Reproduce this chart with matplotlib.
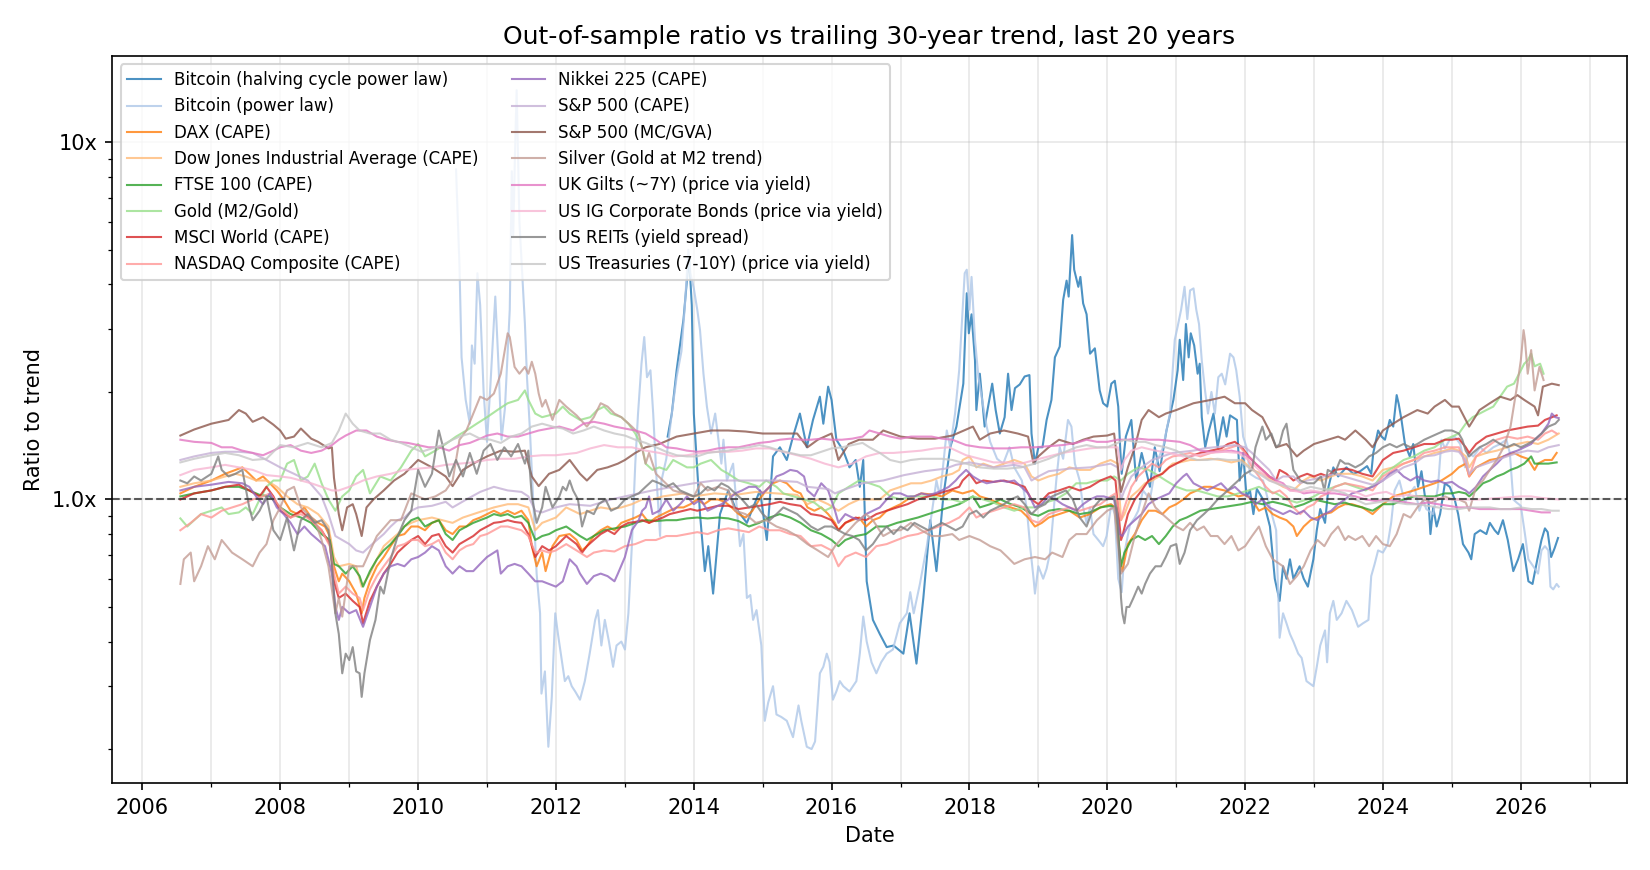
import numpy as np
import pandas as pd
import matplotlib
matplotlib.use("Agg")
import matplotlib.pyplot as plt
import matplotlib.dates as mdates
from matplotlib.ticker import FuncFormatter, NullFormatter

# ratio to trailing trend (decimal year, ratio)
btc_halving_t = [2013.62, 2013.68, 2013.75, 2013.85, 2013.93, 2013.97, 2014.0, 2014.09, 2014.16, 2014.21, 2014.28, 2014.38, 2014.5, 2014.6, 2014.77, 2014.96, 2015.06, 2015.15, 2015.25, 2015.35, 2015.44, 2015.54, 2015.64, 2015.73, 2015.83, 2015.88, 2015.95, 2016.0, 2016.07, 2016.17, 2016.26, 2016.35, 2016.41, 2016.46, 2016.51, 2016.6, 2016.7, 2016.8, 2016.9, 2017.04, 2017.13, 2017.23, 2017.33, 2017.43, 2017.52, 2017.62, 2017.72, 2017.81, 2017.91, 2017.96, 2017.99, 2018.03, 2018.08, 2018.1, 2018.15, 2018.22, 2018.27, 2018.33, 2018.38, 2018.44, 2018.51, 2018.56, 2018.61, 2018.66, 2018.73, 2018.8, 2018.87, 2018.9, 2018.95, 2019.0, 2019.06, 2019.12, 2019.19, 2019.24, 2019.31, 2019.36, 2019.41, 2019.44, 2019.49, 2019.52, 2019.58, 2019.61, 2019.65, 2019.7, 2019.75, 2019.82, 2019.89, 2019.94, 2020.0, 2020.06, 2020.11, 2020.16, 2020.19, 2020.21, 2020.27, 2020.35, 2020.42, 2020.5, 2020.62, 2020.69, 2020.76, 2020.86, 2020.96, 2021.02, 2021.05, 2021.1, 2021.14, 2021.18, 2021.21, 2021.26, 2021.31, 2021.34, 2021.37, 2021.42, 2021.47, 2021.54, 2021.6, 2021.68, 2021.73, 2021.78, 2021.88, 2021.92, 2021.97, 2022.02, 2022.07, 2022.12, 2022.17, 2022.26, 2022.36, 2022.43, 2022.5, 2022.55, 2022.6, 2022.65, 2022.7, 2022.79, 2022.85, 2022.91, 2022.99, 2023.04, 2023.09, 2023.16, 2023.21, 2023.28, 2023.35, 2023.47, 2023.57, 2023.67, 2023.77, 2023.83, 2023.86, 2023.93, 2023.98, 2024.03, 2024.1, 2024.15, 2024.2, 2024.23, 2024.27, 2024.32, 2024.39, 2024.44, 2024.51, 2024.56, 2024.61, 2024.66, 2024.69, 2024.73, 2024.78, 2024.83, 2024.9, 2024.97, 2025.04, 2025.09, 2025.16, 2025.24, 2025.28, 2025.33, 2025.41, 2025.5, 2025.55, 2025.62, 2025.67, 2025.74, 2025.81, 2025.89, 2025.96, 2026.03, 2026.11, 2026.17, 2026.24, 2026.3, 2026.35, 2026.39, 2026.44, 2026.49, 2026.54]
btc_halving_v = [1.50, 1.74, 2.3, 3.2, 4.8, 3.5, 1.74, 0.91, 0.63, 0.74, 0.545, 0.91, 1.06, 0.95, 0.86, 1.06, 0.77, 1.32, 1.40, 1.29, 1.50, 1.74, 1.40, 1.67, 1.94, 1.63, 2.07, 1.90, 1.47, 1.37, 1.23, 1.29, 1.085, 1.29, 0.59, 0.46, 0.42, 0.386, 0.39, 0.37, 0.48, 0.347, 0.53, 0.875, 0.63, 1.02, 1.40, 1.60, 2.11, 3.78, 2.92, 3.3, 2.45, 1.78, 2.25, 1.60, 1.82, 2.11, 1.78, 1.53, 1.70, 2.25, 1.78, 2.05, 2.10, 2.21, 2.23, 1.53, 1.26, 1.40, 1.40, 1.67, 1.90, 2.50, 2.68, 3.62, 4.10, 3.7, 5.5, 4.4, 3.94, 4.2, 3.54, 3.3, 2.56, 2.65, 2.02, 1.86, 1.82, 2.11, 2.15, 1.82, 1.37, 1.18, 1.5, 1.67, 1.13, 1.35, 1.085, 1.40, 1.20, 1.56, 1.90, 2.3, 2.8, 2.16, 3.1, 2.5, 2.92, 2.7, 2.25, 2.4, 1.70, 1.40, 1.55, 1.74, 1.40, 1.70, 1.50, 1.72, 1.67, 1.13, 1.35, 1.02, 1.06, 0.91, 1.07, 1.0, 0.84, 0.60, 0.52, 0.65, 0.60, 0.68, 0.60, 0.65, 0.60, 0.57, 0.68, 0.82, 0.94, 0.86, 1.085, 1.23, 1.16, 1.23, 1.18, 1.20, 1.24, 1.18, 1.35, 1.56, 1.50, 1.47, 1.67, 1.60, 1.96, 1.85, 1.67, 1.43, 1.32, 1.43, 1.085, 1.20, 1.02, 1.0, 0.80, 0.95, 0.84, 0.91, 1.11, 1.085, 1.0, 0.91, 0.75, 0.71, 0.68, 0.80, 0.82, 0.80, 0.86, 0.82, 0.80, 0.875, 0.77, 0.63, 0.68, 0.75, 0.59, 0.58, 0.68, 0.77, 0.83, 0.81, 0.69, 0.73, 0.78]

btc_power_t = [2010.55, 2010.57, 2010.6, 2010.63, 2010.69, 2010.75, 2010.78, 2010.82, 2010.86, 2010.9, 2010.95, 2011.0, 2011.05, 2011.12, 2011.17, 2011.21, 2011.26, 2011.33, 2011.36, 2011.38, 2011.41, 2011.43, 2011.47, 2011.52, 2011.55, 2011.58, 2011.62, 2011.68, 2011.72, 2011.77, 2011.79, 2011.84, 2011.89, 2011.94, 2011.99, 2012.03, 2012.08, 2012.13, 2012.18, 2012.23, 2012.28, 2012.35, 2012.42, 2012.49, 2012.57, 2012.61, 2012.66, 2012.71, 2012.77, 2012.83, 2012.88, 2012.95, 2013.0, 2013.05, 2013.1, 2013.15, 2013.19, 2013.24, 2013.28, 2013.32, 2013.37, 2013.41, 2013.46, 2013.51, 2013.53, 2013.6, 2013.68, 2013.75, 2013.82, 2013.87, 2013.92, 2013.95, 2014.0, 2014.05, 2014.09, 2014.14, 2014.19, 2014.25, 2014.31, 2014.4, 2014.43, 2014.48, 2014.57, 2014.67, 2014.72, 2014.77, 2014.82, 2014.86, 2014.91, 2014.98, 2015.03, 2015.08, 2015.15, 2015.2, 2015.27, 2015.35, 2015.44, 2015.52, 2015.56, 2015.64, 2015.71, 2015.76, 2015.83, 2015.88, 2015.93, 2015.97, 2016.02, 2016.07, 2016.12, 2016.17, 2016.26, 2016.36, 2016.41, 2016.46, 2016.51, 2016.58, 2016.65, 2016.72, 2016.8, 2016.89, 2016.99, 2017.09, 2017.14, 2017.19, 2017.28, 2017.38, 2017.45, 2017.52, 2017.57, 2017.67, 2017.72, 2017.79, 2017.85, 2017.93, 2017.96, 2018.0, 2018.03, 2018.08, 2018.13, 2018.2, 2018.25, 2018.3, 2018.4, 2018.49, 2018.58, 2018.65, 2018.76, 2018.83, 2018.88, 2018.93, 2018.95, 2019.0, 2019.07, 2019.12, 2019.17, 2019.21, 2019.26, 2019.31, 2019.36, 2019.43, 2019.48, 2019.53, 2019.6, 2019.65, 2019.7, 2019.75, 2019.8, 2019.87, 2019.94, 2019.99, 2020.06, 2020.11, 2020.16, 2020.21, 2020.25, 2020.33, 2020.4, 2020.45, 2020.52, 2020.62, 2020.71, 2020.81, 2020.91, 2020.95, 2020.98, 2021.02, 2021.07, 2021.12, 2021.16, 2021.2, 2021.25, 2021.29, 2021.33, 2021.37, 2021.42, 2021.46, 2021.51, 2021.56, 2021.61, 2021.66, 2021.71, 2021.78, 2021.83, 2021.87, 2021.92, 2021.97, 2022.02, 2022.07, 2022.16, 2022.26, 2022.36, 2022.45, 2022.5, 2022.55, 2022.6, 2022.65, 2022.7, 2022.77, 2022.82, 2022.89, 2022.94, 2022.99, 2023.04, 2023.09, 2023.16, 2023.19, 2023.23, 2023.28, 2023.33, 2023.4, 2023.47, 2023.55, 2023.64, 2023.71, 2023.79, 2023.83, 2023.88, 2023.93, 2024.0, 2024.07, 2024.12, 2024.17, 2024.24, 2024.32, 2024.39, 2024.46, 2024.53, 2024.58, 2024.63, 2024.73, 2024.8, 2024.85, 2024.9, 2024.97, 2025.04, 2025.12, 2025.19, 2025.24, 2025.31, 2025.41, 2025.5, 2025.6, 2025.7, 2025.79, 2025.84, 2025.89, 2025.94, 2026.0, 2026.06, 2026.11, 2026.18, 2026.25, 2026.3, 2026.35, 2026.4, 2026.43, 2026.47, 2026.52, 2026.55]
btc_power_v = [8.4, 6.5, 4.5, 2.5, 1.9, 1.63, 2.7, 2.4, 4.3, 3.5, 2.0, 1.45, 2.1, 3.7, 2.3, 1.47, 1.8, 3.4, 8.3, 5.5, 10.0, 14.0, 6.0, 4.0, 3.1, 2.2, 1.6, 0.9, 0.62, 0.48, 0.286, 0.33, 0.203, 0.28, 0.48, 0.42, 0.36, 0.31, 0.32, 0.30, 0.29, 0.275, 0.31, 0.37, 0.46, 0.49, 0.39, 0.46, 0.40, 0.34, 0.39, 0.40, 0.38, 0.48, 0.74, 1.26, 1.74, 2.4, 2.85, 2.2, 2.3, 1.74, 1.13, 0.79, 1.13, 1.30, 1.74, 2.2, 2.6, 3.5, 5.0, 4.3, 3.9, 3.4, 2.98, 2.25, 1.82, 1.53, 1.74, 1.26, 1.47, 1.13, 1.26, 0.74, 0.80, 0.53, 0.54, 0.46, 0.49, 0.39, 0.24, 0.27, 0.30, 0.25, 0.246, 0.24, 0.216, 0.265, 0.24, 0.203, 0.20, 0.21, 0.326, 0.34, 0.37, 0.35, 0.275, 0.29, 0.31, 0.30, 0.29, 0.31, 0.37, 0.47, 0.40, 0.35, 0.326, 0.35, 0.37, 0.38, 0.45, 0.48, 0.55, 0.48, 0.58, 0.74, 0.91, 1.13, 1.02, 1.56, 1.40, 1.74, 2.3, 4.3, 4.4, 3.4, 4.2, 2.8, 2.2, 1.82, 1.60, 1.45, 1.30, 1.26, 1.40, 1.23, 1.13, 0.95, 0.74, 0.60, 0.545, 0.65, 0.60, 0.64, 0.71, 0.875, 1.13, 1.40, 1.30, 1.67, 1.60, 1.26, 1.13, 0.95, 0.86, 0.95, 0.80, 0.77, 0.74, 0.79, 0.97, 0.91, 0.60, 0.55, 0.71, 0.85, 0.89, 0.93, 1.06, 1.0, 1.26, 1.40, 1.74, 2.3, 2.8, 3.05, 3.4, 3.94, 3.2, 3.85, 3.9, 3.4, 3.1, 2.45, 2.0, 1.74, 2.0, 1.74, 2.2, 2.25, 2.1, 2.56, 2.5, 2.3, 1.94, 1.50, 1.40, 1.18, 1.15, 1.13, 0.95, 0.82, 0.41, 0.48, 0.45, 0.42, 0.40, 0.37, 0.36, 0.31, 0.305, 0.30, 0.34, 0.39, 0.43, 0.35, 0.48, 0.52, 0.46, 0.48, 0.52, 0.49, 0.44, 0.45, 0.46, 0.61, 0.66, 0.72, 0.71, 0.75, 0.86, 1.06, 1.13, 0.98, 1.04, 1.085, 0.93, 1.0, 0.94, 0.91, 1.085, 1.47, 1.39, 1.47, 1.50, 1.43, 1.23, 1.35, 1.32, 1.40, 1.35, 1.40, 1.43, 1.47, 1.35, 1.0, 0.98, 0.96, 0.80, 0.68, 0.65, 0.62, 0.72, 0.74, 0.72, 0.57, 0.56, 0.58, 0.57]

dax_t = [2006.55, 2006.75, 2007.0, 2007.2, 2007.35, 2007.45, 2007.55, 2007.65, 2007.75, 2007.85, 2007.95, 2008.05, 2008.15, 2008.25, 2008.35, 2008.45, 2008.55, 2008.65, 2008.72, 2008.78, 2008.85, 2008.9, 2009.0, 2009.1, 2009.18, 2009.22, 2009.3, 2009.4, 2009.5, 2009.6, 2009.7, 2009.8, 2009.9, 2010.0, 2010.1, 2010.2, 2010.3, 2010.4, 2010.5, 2010.6, 2010.7, 2010.8, 2010.9, 2011.0, 2011.1, 2011.2, 2011.3, 2011.4, 2011.5, 2011.6, 2011.65, 2011.72, 2011.8, 2011.85, 2011.95, 2012.05, 2012.2, 2012.3, 2012.38, 2012.45, 2012.55, 2012.65, 2012.75, 2012.85, 2012.95, 2013.05, 2013.15, 2013.25, 2013.35, 2013.45, 2013.55, 2013.65, 2013.75, 2013.85, 2013.95, 2014.05, 2014.15, 2014.25, 2014.35, 2014.45, 2014.55, 2014.65, 2014.75, 2014.85, 2014.95, 2015.05, 2015.15, 2015.25, 2015.35, 2015.45, 2015.55, 2015.65, 2015.75, 2015.85, 2015.95, 2016.05, 2016.1, 2016.2, 2016.3, 2016.4, 2016.5, 2016.6, 2016.7, 2016.8, 2016.9, 2017.0, 2017.1, 2017.2, 2017.3, 2017.5, 2017.6, 2017.75, 2017.9, 2018.05, 2018.15, 2018.3, 2018.45, 2018.6, 2018.75, 2018.85, 2018.95, 2019.05, 2019.15, 2019.3, 2019.45, 2019.6, 2019.75, 2019.9, 2020.05, 2020.12, 2020.2, 2020.22, 2020.3, 2020.4, 2020.5, 2020.6, 2020.7, 2020.8, 2020.9, 2021.0, 2021.1, 2021.2, 2021.3, 2021.4, 2021.5, 2021.6, 2021.7, 2021.8, 2021.9, 2022.0, 2022.1, 2022.2, 2022.3, 2022.4, 2022.5, 2022.6, 2022.7, 2022.75, 2022.85, 2022.95, 2023.05, 2023.15, 2023.25, 2023.35, 2023.45, 2023.55, 2023.7, 2023.85, 2024.0, 2024.15, 2024.3, 2024.45, 2024.6, 2024.75, 2024.85, 2025.0, 2025.1, 2025.2, 2025.25, 2025.35, 2025.45, 2025.55, 2025.65, 2025.75, 2025.9, 2026.0, 2026.1, 2026.2, 2026.25, 2026.35, 2026.45, 2026.52]
dax_v = [1.04, 1.085, 1.13, 1.18, 1.21, 1.23, 1.18, 1.13, 1.16, 1.11, 1.06, 1.0, 0.93, 0.91, 0.95, 0.89, 0.86, 0.84, 0.79, 0.65, 0.59, 0.62, 0.59, 0.545, 0.48, 0.53, 0.59, 0.65, 0.69, 0.74, 0.79, 0.80, 0.84, 0.84, 0.82, 0.86, 0.875, 0.82, 0.80, 0.84, 0.84, 0.875, 0.89, 0.91, 0.93, 0.91, 0.93, 0.91, 0.93, 0.875, 0.74, 0.65, 0.71, 0.63, 0.74, 0.79, 0.80, 0.77, 0.72, 0.74, 0.79, 0.82, 0.84, 0.82, 0.86, 0.875, 0.89, 0.91, 0.86, 0.89, 0.91, 0.93, 0.95, 0.95, 0.97, 1.0, 0.97, 1.0, 1.0, 0.985, 0.95, 0.91, 0.89, 0.93, 1.0, 1.06, 1.11, 1.13, 1.11, 1.06, 1.04, 0.95, 0.93, 0.95, 0.91, 0.86, 0.82, 0.86, 0.875, 0.89, 0.84, 0.875, 0.89, 0.93, 0.95, 0.97, 1.0, 1.02, 1.04, 1.03, 1.02, 1.06, 1.04, 1.06, 1.02, 1.0, 0.97, 0.95, 0.93, 0.89, 0.84, 0.86, 0.89, 0.91, 0.93, 0.89, 0.91, 0.95, 0.97, 0.95, 0.65, 0.63, 0.75, 0.80, 0.875, 0.93, 0.93, 0.91, 0.95, 0.97, 1.0, 1.04, 1.06, 1.085, 1.085, 1.07, 1.06, 1.04, 1.02, 1.03, 1.0, 0.93, 0.95, 0.91, 0.89, 0.875, 0.84, 0.79, 0.84, 0.875, 0.89, 0.91, 0.92, 0.95, 0.97, 0.97, 0.95, 0.91, 0.97, 1.02, 1.04, 1.06, 1.085, 1.11, 1.13, 1.18, 1.23, 1.26, 1.16, 1.23, 1.26, 1.29, 1.30, 1.32, 1.35, 1.32, 1.30, 1.21, 1.26, 1.29, 1.29, 1.35]

dow_t = [2006.55, 2006.75, 2007.0, 2007.2, 2007.35, 2007.5, 2007.65, 2007.8, 2007.95, 2008.1, 2008.25, 2008.4, 2008.55, 2008.7, 2008.78, 2008.85, 2009.0, 2009.1, 2009.18, 2009.3, 2009.4, 2009.5, 2009.6, 2009.7, 2009.8, 2009.9, 2010.0, 2010.2, 2010.35, 2010.5, 2010.65, 2010.8, 2010.95, 2011.1, 2011.3, 2011.45, 2011.6, 2011.7, 2011.8, 2011.9, 2012.0, 2012.15, 2012.35, 2012.5, 2012.65, 2012.8, 2012.95, 2013.1, 2013.25, 2013.4, 2013.55, 2013.7, 2013.85, 2014.0, 2014.15, 2014.3, 2014.6, 2014.9, 2015.2, 2015.5, 2015.65, 2015.8, 2015.95, 2016.1, 2016.25, 2016.4, 2016.55, 2016.7, 2016.85, 2017.0, 2017.15, 2017.3, 2017.45, 2017.6, 2017.75, 2017.85, 2017.9, 2018.0, 2018.1, 2018.2, 2018.35, 2018.5, 2018.65, 2018.8, 2018.9, 2019.0, 2019.15, 2019.3, 2019.45, 2019.6, 2019.75, 2019.9, 2020.05, 2020.15, 2020.2, 2020.25, 2020.35, 2020.45, 2020.55, 2020.65, 2020.75, 2020.85, 2020.95, 2021.05, 2021.2, 2021.35, 2021.5, 2021.65, 2021.8, 2021.95, 2022.1, 2022.25, 2022.4, 2022.55, 2022.7, 2022.85, 2022.95, 2023.1, 2023.25, 2023.35, 2023.45, 2023.55, 2023.7, 2023.85, 2024.0, 2024.15, 2024.3, 2024.45, 2024.6, 2024.75, 2024.9, 2025.0, 2025.1, 2025.2, 2025.25, 2025.35, 2025.5, 2025.65, 2025.8, 2025.95, 2026.1, 2026.25, 2026.4, 2026.55]
dow_v = [1.085, 1.11, 1.13, 1.16, 1.18, 1.16, 1.13, 1.13, 1.085, 1.02, 0.97, 0.95, 0.91, 0.84, 0.69, 0.65, 0.66, 0.65, 0.57, 0.62, 0.68, 0.74, 0.77, 0.80, 0.84, 0.86, 0.875, 0.89, 0.875, 0.86, 0.89, 0.91, 0.93, 0.95, 0.97, 0.97, 0.95, 0.82, 0.86, 0.875, 0.89, 0.95, 0.91, 0.93, 0.95, 0.94, 0.95, 0.97, 1.0, 1.0, 1.02, 1.03, 1.04, 1.02, 1.03, 1.04, 1.03, 1.05, 1.04, 1.03, 0.97, 1.0, 0.97, 0.93, 0.97, 1.0, 1.0, 1.0, 1.06, 1.085, 1.11, 1.11, 1.13, 1.16, 1.18, 1.21, 1.29, 1.32, 1.23, 1.26, 1.23, 1.26, 1.29, 1.26, 1.16, 1.13, 1.16, 1.18, 1.23, 1.21, 1.21, 1.26, 1.29, 1.26, 0.875, 0.91, 1.02, 1.06, 1.11, 1.13, 1.16, 1.21, 1.26, 1.27, 1.29, 1.29, 1.30, 1.29, 1.27, 1.29, 1.21, 1.18, 1.13, 1.085, 1.06, 1.13, 1.16, 1.13, 1.16, 1.18, 1.18, 1.18, 1.16, 1.13, 1.21, 1.23, 1.26, 1.29, 1.32, 1.35, 1.37, 1.39, 1.37, 1.32, 1.23, 1.32, 1.35, 1.37, 1.40, 1.43, 1.45, 1.43, 1.47, 1.53]

ftse_t = [2006.55, 2006.75, 2007.0, 2007.2, 2007.4, 2007.55, 2007.7, 2007.85, 2008.0, 2008.15, 2008.3, 2008.45, 2008.6, 2008.72, 2008.78, 2008.85, 2008.95, 2009.05, 2009.15, 2009.2, 2009.3, 2009.4, 2009.5, 2009.6, 2009.7, 2009.8, 2009.9, 2010.0, 2010.1, 2010.2, 2010.3, 2010.4, 2010.5, 2010.6, 2010.7, 2010.8, 2010.9, 2011.0, 2011.1, 2011.2, 2011.3, 2011.4, 2011.5, 2011.6, 2011.7, 2011.8, 2011.9, 2012.0, 2012.15, 2012.35, 2012.45, 2012.55, 2012.7, 2012.85, 2013.0, 2013.15, 2013.3, 2013.45, 2013.6, 2013.75, 2013.9, 2014.05, 2014.2, 2014.35, 2014.5, 2014.65, 2014.8, 2014.95, 2015.1, 2015.25, 2015.4, 2015.55, 2015.7, 2015.85, 2016.0, 2016.1, 2016.2, 2016.35, 2016.5, 2016.65, 2016.8, 2016.95, 2017.1, 2017.25, 2017.4, 2017.55, 2017.7, 2017.85, 2018.05, 2018.15, 2018.3, 2018.45, 2018.6, 2018.75, 2018.9, 2019.0, 2019.15, 2019.3, 2019.45, 2019.6, 2019.75, 2019.9, 2020.05, 2020.12, 2020.2, 2020.25, 2020.35, 2020.45, 2020.55, 2020.65, 2020.75, 2020.85, 2020.95, 2021.05, 2021.15, 2021.25, 2021.35, 2021.5, 2021.65, 2021.8, 2021.95, 2022.1, 2022.25, 2022.4, 2022.55, 2022.7, 2022.85, 2023.0, 2023.15, 2023.3, 2023.45, 2023.55, 2023.7, 2023.85, 2024.0, 2024.15, 2024.3, 2024.45, 2024.6, 2024.75, 2024.9, 2025.0, 2025.1, 2025.2, 2025.25, 2025.35, 2025.45, 2025.55, 2025.65, 2025.75, 2025.85, 2025.95, 2026.05, 2026.15, 2026.2, 2026.3, 2026.4, 2026.52]
ftse_v = [1.02, 1.04, 1.06, 1.085, 1.085, 1.06, 1.03, 1.02, 0.95, 0.91, 0.89, 0.86, 0.80, 0.77, 0.66, 0.65, 0.62, 0.65, 0.61, 0.57, 0.63, 0.68, 0.72, 0.75, 0.79, 0.84, 0.875, 0.89, 0.84, 0.86, 0.875, 0.80, 0.77, 0.82, 0.84, 0.86, 0.875, 0.89, 0.91, 0.90, 0.91, 0.89, 0.90, 0.86, 0.77, 0.79, 0.80, 0.82, 0.84, 0.79, 0.77, 0.79, 0.82, 0.83, 0.84, 0.86, 0.875, 0.87, 0.875, 0.875, 0.885, 0.89, 0.885, 0.89, 0.885, 0.87, 0.84, 0.86, 0.89, 0.91, 0.89, 0.86, 0.82, 0.80, 0.77, 0.74, 0.77, 0.79, 0.80, 0.84, 0.84, 0.86, 0.875, 0.89, 0.91, 0.93, 0.95, 0.97, 1.02, 0.95, 0.97, 1.0, 0.97, 0.95, 0.91, 0.90, 0.93, 0.94, 0.93, 0.91, 0.92, 0.95, 0.96, 0.95, 0.65, 0.71, 0.77, 0.79, 0.77, 0.79, 0.75, 0.79, 0.84, 0.875, 0.89, 0.91, 0.93, 0.94, 0.95, 0.96, 0.97, 0.985, 0.97, 0.985, 0.97, 0.95, 0.97, 1.0, 0.985, 0.97, 0.98, 0.965, 0.95, 0.93, 0.97, 0.97, 1.0, 1.02, 1.02, 1.02, 1.04, 1.04, 1.05, 1.04, 1.02, 1.06, 1.11, 1.13, 1.16, 1.18, 1.21, 1.23, 1.26, 1.32, 1.26, 1.26, 1.26, 1.27]

gold_t = [2006.55, 2006.65, 2006.75, 2006.85, 2007.0, 2007.15, 2007.25, 2007.4, 2007.5, 2007.6, 2007.7, 2007.8, 2007.9, 2008.0, 2008.1, 2008.2, 2008.3, 2008.4, 2008.5, 2008.6, 2008.7, 2008.8, 2008.9, 2009.0, 2009.1, 2009.2, 2009.3, 2009.45, 2009.6, 2009.75, 2009.9, 2010.0, 2010.1, 2010.25, 2010.4, 2010.55, 2010.7, 2010.85, 2011.0, 2011.15, 2011.3, 2011.45, 2011.55, 2011.6, 2011.7, 2011.8, 2012.0, 2012.1, 2012.2, 2012.35, 2012.5, 2012.6, 2012.7, 2012.8, 2012.95, 2013.05, 2013.15, 2013.25, 2013.3, 2013.4, 2013.5, 2013.6, 2013.7, 2013.8, 2013.9, 2014.0, 2014.1, 2014.25, 2014.4, 2014.5, 2014.65, 2014.8, 2014.95, 2015.05, 2015.2, 2015.3, 2015.45, 2015.6, 2015.75, 2015.9, 2016.0, 2016.1, 2016.25, 2016.4, 2016.55, 2016.7, 2016.85, 2017.0, 2017.15, 2017.3, 2017.45, 2017.6, 2017.75, 2017.9, 2018.05, 2018.2, 2018.35, 2018.5, 2018.65, 2018.8, 2018.95, 2019.1, 2019.25, 2019.4, 2019.55, 2019.7, 2019.85, 2020.0, 2020.1, 2020.2, 2020.3, 2020.45, 2020.6, 2020.7, 2020.85, 2021.0, 2021.15, 2021.3, 2021.45, 2021.6, 2021.75, 2021.9, 2022.05, 2022.2, 2022.3, 2022.45, 2022.6, 2022.75, 2022.9, 2023.0, 2023.15, 2023.3, 2023.45, 2023.6, 2023.75, 2023.9, 2024.0, 2024.15, 2024.3, 2024.45, 2024.6, 2024.75, 2024.9, 2025.0, 2025.1, 2025.2, 2025.3, 2025.4, 2025.5, 2025.6, 2025.7, 2025.8, 2025.9, 2026.0, 2026.05, 2026.1, 2026.15, 2026.2, 2026.28, 2026.33]
gold_v = [0.885, 0.84, 0.875, 0.91, 0.93, 0.95, 0.91, 0.92, 0.95, 0.91, 1.0, 1.085, 1.13, 1.13, 1.26, 1.29, 1.13, 1.16, 1.26, 1.11, 1.0, 0.93, 1.02, 1.06, 1.16, 1.21, 1.04, 1.16, 1.13, 1.23, 1.37, 1.43, 1.32, 1.37, 1.43, 1.50, 1.56, 1.63, 1.70, 1.78, 1.86, 1.90, 2.02, 1.90, 1.74, 1.70, 1.74, 1.82, 1.74, 1.67, 1.70, 1.78, 1.82, 1.74, 1.70, 1.63, 1.53, 1.40, 1.26, 1.21, 1.23, 1.21, 1.29, 1.26, 1.23, 1.23, 1.26, 1.29, 1.21, 1.18, 1.13, 1.11, 1.085, 1.13, 1.085, 1.04, 1.02, 1.0, 0.98, 0.93, 0.95, 1.04, 1.085, 1.13, 1.11, 1.085, 1.02, 1.0, 1.02, 1.02, 1.02, 1.0, 1.0, 0.98, 1.02, 1.0, 0.98, 0.95, 0.93, 0.95, 0.95, 0.98, 1.0, 1.04, 1.11, 1.11, 1.13, 1.13, 1.16, 1.13, 1.18, 1.23, 1.21, 1.18, 1.13, 1.085, 1.06, 1.06, 1.04, 1.02, 1.02, 1.04, 1.06, 1.085, 1.06, 1.04, 1.0, 0.98, 1.0, 1.02, 1.06, 1.085, 1.11, 1.085, 1.06, 1.11, 1.18, 1.23, 1.29, 1.32, 1.37, 1.40, 1.47, 1.50, 1.53, 1.63, 1.70, 1.74, 1.78, 1.82, 1.94, 2.07, 2.11, 2.30, 2.40, 2.45, 2.56, 2.36, 2.40, 2.25]

msci_t = [2006.55, 2006.75, 2007.0, 2007.2, 2007.4, 2007.55, 2007.7, 2007.8, 2007.9, 2008.0, 2008.15, 2008.3, 2008.45, 2008.6, 2008.72, 2008.78, 2008.85, 2008.95, 2009.05, 2009.15, 2009.2, 2009.3, 2009.4, 2009.5, 2009.6, 2009.7, 2009.8, 2009.9, 2010.0, 2010.1, 2010.2, 2010.3, 2010.4, 2010.5, 2010.6, 2010.7, 2010.8, 2010.9, 2011.0, 2011.1, 2011.2, 2011.3, 2011.4, 2011.5, 2011.6, 2011.7, 2011.8, 2011.9, 2012.0, 2012.15, 2012.3, 2012.38, 2012.45, 2012.55, 2012.65, 2012.75, 2012.85, 2012.95, 2013.05, 2013.15, 2013.25, 2013.35, 2013.45, 2013.55, 2013.65, 2013.75, 2013.85, 2013.95, 2014.05, 2014.15, 2014.25, 2014.35, 2014.5, 2014.65, 2014.8, 2014.95, 2015.1, 2015.25, 2015.4, 2015.55, 2015.7, 2015.85, 2016.0, 2016.1, 2016.2, 2016.35, 2016.5, 2016.65, 2016.8, 2016.95, 2017.1, 2017.25, 2017.4, 2017.55, 2017.7, 2017.85, 2017.9, 2018.0, 2018.1, 2018.2, 2018.35, 2018.5, 2018.65, 2018.8, 2018.9, 2019.0, 2019.15, 2019.3, 2019.45, 2019.6, 2019.75, 2019.9, 2020.05, 2020.12, 2020.2, 2020.22, 2020.3, 2020.4, 2020.5, 2020.6, 2020.7, 2020.8, 2020.9, 2021.0, 2021.1, 2021.2, 2021.35, 2021.5, 2021.65, 2021.75, 2021.85, 2021.95, 2022.05, 2022.15, 2022.25, 2022.35, 2022.45, 2022.5, 2022.6, 2022.7, 2022.8, 2022.9, 2023.0, 2023.1, 2023.2, 2023.3, 2023.45, 2023.55, 2023.7, 2023.85, 2024.0, 2024.15, 2024.3, 2024.45, 2024.6, 2024.75, 2024.9, 2025.0, 2025.1, 2025.2, 2025.25, 2025.35, 2025.5, 2025.65, 2025.8, 2025.95, 2026.1, 2026.25, 2026.35, 2026.45, 2026.52]
msci_v = [1.0, 1.04, 1.06, 1.085, 1.10, 1.06, 1.02, 1.085, 1.02, 0.93, 0.89, 0.93, 0.875, 0.82, 0.75, 0.59, 0.53, 0.545, 0.52, 0.50, 0.45, 0.52, 0.57, 0.62, 0.66, 0.71, 0.74, 0.77, 0.79, 0.75, 0.79, 0.80, 0.74, 0.71, 0.75, 0.77, 0.79, 0.82, 0.84, 0.86, 0.865, 0.875, 0.865, 0.86, 0.80, 0.69, 0.74, 0.72, 0.74, 0.79, 0.75, 0.71, 0.74, 0.77, 0.80, 0.82, 0.80, 0.84, 0.86, 0.865, 0.875, 0.86, 0.875, 0.89, 0.91, 0.92, 0.93, 0.94, 0.93, 0.94, 0.95, 0.96, 0.96, 0.94, 0.95, 0.96, 0.97, 0.985, 0.97, 0.96, 0.91, 0.90, 0.875, 0.82, 0.86, 0.89, 0.875, 0.91, 0.93, 0.95, 0.97, 1.0, 1.02, 1.04, 1.06, 1.085, 1.13, 1.18, 1.11, 1.13, 1.12, 1.13, 1.11, 1.085, 1.0, 0.97, 1.04, 1.06, 1.085, 1.06, 1.085, 1.13, 1.16, 1.13, 0.77, 0.79, 0.91, 1.0, 1.06, 1.13, 1.16, 1.18, 1.23, 1.26, 1.29, 1.32, 1.35, 1.37, 1.39, 1.43, 1.45, 1.40, 1.32, 1.26, 1.21, 1.16, 1.13, 1.21, 1.18, 1.13, 1.16, 1.18, 1.16, 1.18, 1.16, 1.21, 1.22, 1.21, 1.18, 1.16, 1.29, 1.35, 1.37, 1.40, 1.43, 1.43, 1.47, 1.47, 1.48, 1.40, 1.35, 1.43, 1.50, 1.53, 1.56, 1.58, 1.60, 1.61, 1.67, 1.70, 1.72]

nasdaq_t = [2006.55, 2006.7, 2006.85, 2007.0, 2007.15, 2007.3, 2007.45, 2007.6, 2007.75, 2007.85, 2008.0, 2008.15, 2008.3, 2008.45, 2008.6, 2008.72, 2008.78, 2008.85, 2008.95, 2009.05, 2009.15, 2009.2, 2009.3, 2009.4, 2009.5, 2009.6, 2009.7, 2009.8, 2009.9, 2010.0, 2010.1, 2010.2, 2010.3, 2010.4, 2010.5, 2010.6, 2010.7, 2010.8, 2010.9, 2011.0, 2011.1, 2011.2, 2011.3, 2011.4, 2011.5, 2011.6, 2011.7, 2011.8, 2011.9, 2012.0, 2012.15, 2012.35, 2012.45, 2012.55, 2012.7, 2012.85, 2013.0, 2013.15, 2013.3, 2013.45, 2013.6, 2013.75, 2013.9, 2014.05, 2014.2, 2014.35, 2014.5, 2014.65, 2014.8, 2014.95, 2015.1, 2015.25, 2015.4, 2015.55, 2015.7, 2015.85, 2016.0, 2016.1, 2016.2, 2016.35, 2016.5, 2016.65, 2016.8, 2016.95, 2017.1, 2017.25, 2017.4, 2017.55, 2017.7, 2017.85, 2018.0, 2018.1, 2018.2, 2018.35, 2018.5, 2018.65, 2018.8, 2018.9, 2019.0, 2019.15, 2019.3, 2019.45, 2019.6, 2019.75, 2019.9, 2020.05, 2020.12, 2020.2, 2020.25, 2020.35, 2020.45, 2020.55, 2020.65, 2020.75, 2020.85, 2020.95, 2021.05, 2021.2, 2021.35, 2021.5, 2021.65, 2021.8, 2021.9, 2022.0, 2022.1, 2022.2, 2022.3, 2022.4, 2022.5, 2022.6, 2022.7, 2022.8, 2022.9, 2023.0, 2023.1, 2023.2, 2023.3, 2023.45, 2023.55, 2023.7, 2023.85, 2024.0, 2024.15, 2024.3, 2024.45, 2024.6, 2024.75, 2024.9, 2025.0, 2025.1, 2025.2, 2025.25, 2025.35, 2025.5, 2025.65, 2025.8, 2025.95, 2026.1, 2026.25, 2026.35, 2026.45, 2026.52]
nasdaq_v = [0.82, 0.86, 0.91, 0.89, 0.93, 0.95, 0.97, 1.0, 1.02, 1.04, 0.95, 0.89, 0.91, 0.875, 0.82, 0.74, 0.62, 0.545, 0.57, 0.545, 0.53, 0.49, 0.56, 0.61, 0.65, 0.69, 0.74, 0.75, 0.77, 0.77, 0.74, 0.75, 0.77, 0.71, 0.68, 0.72, 0.74, 0.75, 0.79, 0.80, 0.82, 0.84, 0.84, 0.83, 0.82, 0.79, 0.71, 0.72, 0.71, 0.72, 0.75, 0.71, 0.69, 0.71, 0.72, 0.715, 0.74, 0.75, 0.77, 0.77, 0.79, 0.79, 0.80, 0.81, 0.80, 0.82, 0.83, 0.82, 0.81, 0.84, 0.82, 0.82, 0.80, 0.79, 0.74, 0.745, 0.72, 0.65, 0.69, 0.71, 0.69, 0.74, 0.75, 0.77, 0.79, 0.80, 0.82, 0.84, 0.86, 0.89, 0.95, 0.89, 0.91, 0.93, 0.95, 0.97, 0.95, 0.875, 0.86, 0.91, 0.93, 0.95, 0.93, 0.95, 0.97, 1.02, 1.04, 0.875, 0.95, 1.085, 1.16, 1.21, 1.26, 1.23, 1.29, 1.32, 1.33, 1.35, 1.32, 1.35, 1.37, 1.40, 1.42, 1.35, 1.23, 1.16, 1.085, 1.04, 1.06, 1.02, 0.95, 0.91, 0.95, 0.97, 1.02, 1.04, 1.085, 1.11, 1.10, 1.085, 1.06, 1.16, 1.21, 1.26, 1.29, 1.35, 1.37, 1.40, 1.40, 1.40, 1.26, 1.16, 1.32, 1.40, 1.47, 1.50, 1.48, 1.50, 1.47, 1.53, 1.56, 1.53]

nikkei_t = [2006.55, 2006.75, 2007.0, 2007.25, 2007.45, 2007.55, 2007.65, 2007.75, 2007.85, 2007.95, 2008.05, 2008.15, 2008.25, 2008.35, 2008.45, 2008.55, 2008.65, 2008.75, 2008.8, 2008.85, 2008.9, 2009.0, 2009.1, 2009.2, 2009.3, 2009.4, 2009.5, 2009.6, 2009.7, 2009.8, 2009.9, 2010.0, 2010.1, 2010.2, 2010.3, 2010.4, 2010.5, 2010.6, 2010.7, 2010.8, 2010.9, 2011.0, 2011.1, 2011.15, 2011.2, 2011.3, 2011.4, 2011.5, 2011.6, 2011.7, 2011.8, 2011.9, 2012.0, 2012.1, 2012.2, 2012.3, 2012.35, 2012.45, 2012.55, 2012.65, 2012.75, 2012.85, 2012.9, 2013.0, 2013.1, 2013.2, 2013.25, 2013.3, 2013.35, 2013.4, 2013.5, 2013.6, 2013.7, 2013.8, 2013.9, 2014.0, 2014.1, 2014.2, 2014.3, 2014.4, 2014.5, 2014.6, 2014.7, 2014.8, 2014.9, 2015.0, 2015.1, 2015.2, 2015.3, 2015.4, 2015.5, 2015.6, 2015.65, 2015.75, 2015.85, 2015.95, 2016.05, 2016.1, 2016.2, 2016.3, 2016.4, 2016.5, 2016.6, 2016.7, 2016.8, 2016.9, 2017.0, 2017.1, 2017.2, 2017.3, 2017.4, 2017.5, 2017.6, 2017.7, 2017.8, 2017.85, 2017.95, 2018.05, 2018.15, 2018.25, 2018.35, 2018.45, 2018.55, 2018.65, 2018.75, 2018.85, 2018.95, 2019.05, 2019.15, 2019.25, 2019.35, 2019.45, 2019.55, 2019.65, 2019.75, 2019.85, 2019.95, 2020.1, 2020.18, 2020.22, 2020.3, 2020.4, 2020.5, 2020.6, 2020.7, 2020.8, 2020.9, 2021.0, 2021.1, 2021.15, 2021.25, 2021.35, 2021.45, 2021.55, 2021.65, 2021.75, 2021.85, 2021.95, 2022.05, 2022.15, 2022.25, 2022.35, 2022.45, 2022.55, 2022.65, 2022.75, 2022.85, 2022.95, 2023.05, 2023.15, 2023.25, 2023.35, 2023.45, 2023.55, 2023.7, 2023.85, 2024.0, 2024.1, 2024.2, 2024.3, 2024.4, 2024.5, 2024.6, 2024.7, 2024.8, 2024.9, 2025.0, 2025.1, 2025.2, 2025.25, 2025.35, 2025.45, 2025.55, 2025.65, 2025.75, 2025.85, 2025.95, 2026.05, 2026.15, 2026.2, 2026.3, 2026.4, 2026.45, 2026.5, 2026.55]
nikkei_v = [1.06, 1.085, 1.10, 1.12, 1.11, 1.085, 1.02, 0.97, 1.04, 0.95, 0.91, 0.86, 0.80, 0.84, 0.80, 0.77, 0.74, 0.62, 0.50, 0.46, 0.50, 0.48, 0.49, 0.44, 0.50, 0.57, 0.62, 0.65, 0.66, 0.65, 0.68, 0.69, 0.71, 0.74, 0.72, 0.65, 0.62, 0.65, 0.63, 0.63, 0.66, 0.69, 0.71, 0.72, 0.62, 0.65, 0.66, 0.65, 0.62, 0.59, 0.59, 0.58, 0.57, 0.59, 0.68, 0.65, 0.62, 0.58, 0.61, 0.62, 0.61, 0.59, 0.62, 0.69, 0.82, 0.875, 0.93, 0.95, 1.02, 0.91, 0.93, 1.0, 0.93, 0.97, 1.02, 0.97, 1.0, 0.93, 0.95, 0.97, 1.0, 1.04, 1.06, 1.085, 1.085, 1.04, 1.085, 1.16, 1.18, 1.21, 1.20, 1.16, 1.06, 1.02, 1.11, 1.06, 0.93, 0.86, 0.91, 0.89, 0.875, 0.91, 0.93, 0.95, 1.0, 1.04, 1.04, 1.02, 1.02, 1.04, 1.03, 1.04, 1.06, 1.085, 1.13, 1.16, 1.21, 1.16, 1.13, 1.11, 1.12, 1.13, 1.12, 1.13, 1.085, 1.04, 0.95, 0.97, 1.02, 1.0, 0.97, 0.95, 0.93, 0.97, 1.0, 1.02, 1.02, 1.0, 0.80, 0.79, 0.84, 0.875, 0.91, 0.97, 1.0, 1.02, 1.04, 1.11, 1.16, 1.18, 1.11, 1.085, 1.06, 1.085, 1.11, 1.06, 1.085, 1.04, 1.02, 0.97, 1.0, 0.95, 0.93, 0.91, 0.93, 0.91, 0.93, 0.89, 0.875, 0.91, 0.93, 0.97, 1.0, 1.04, 1.06, 1.085, 1.13, 1.18, 1.21, 1.16, 1.13, 1.16, 1.13, 1.12, 1.13, 1.11, 1.12, 1.085, 1.06, 1.04, 1.085, 1.16, 1.21, 1.26, 1.32, 1.35, 1.37, 1.40, 1.43, 1.47, 1.53, 1.63, 1.74, 1.70, 1.69]

spx_cape_t = [2006.55, 2006.75, 2007.0, 2007.2, 2007.4, 2007.6, 2007.8, 2008.0, 2008.2, 2008.4, 2008.6, 2008.7, 2008.8, 2008.9, 2009.0, 2009.1, 2009.2, 2009.3, 2009.4, 2009.5, 2009.6, 2009.7, 2009.8, 2009.9, 2010.0, 2010.2, 2010.4, 2010.5, 2010.7, 2010.9, 2011.1, 2011.3, 2011.5, 2011.6, 2011.7, 2011.8, 2012.0, 2012.2, 2012.5, 2012.8, 2013.1, 2013.4, 2013.7, 2014.0, 2014.3, 2014.75, 2015.2, 2015.5, 2015.65, 2015.95, 2016.05, 2016.15, 2016.45, 2016.75, 2017.05, 2017.35, 2017.65, 2017.8, 2018.0, 2018.2, 2018.35, 2018.65, 2018.8, 2018.9, 2019.0, 2019.15, 2019.45, 2019.75, 2020.05, 2020.15, 2020.2, 2020.25, 2020.35, 2020.5, 2020.65, 2020.8, 2020.95, 2021.1, 2021.25, 2021.4, 2021.55, 2021.85, 2022.0, 2022.1, 2022.2, 2022.35, 2022.45, 2022.55, 2022.7, 2022.8, 2022.9, 2023.0, 2023.15, 2023.3, 2023.5, 2023.7, 2023.85, 2024.0, 2024.15, 2024.3, 2024.45, 2024.6, 2024.75, 2024.9, 2025.0, 2025.1, 2025.2, 2025.25, 2025.35, 2025.5, 2025.65, 2025.8, 2025.95, 2026.1, 2026.25, 2026.4, 2026.55]
spx_cape_v = [1.29, 1.32, 1.35, 1.36, 1.36, 1.35, 1.29, 1.23, 1.18, 1.13, 1.02, 0.91, 0.79, 0.77, 0.75, 0.72, 0.71, 0.74, 0.77, 0.80, 0.84, 0.875, 0.89, 0.93, 0.95, 0.96, 0.985, 0.95, 1.0, 1.05, 1.085, 1.06, 1.05, 1.02, 0.93, 0.92, 0.95, 0.97, 0.96, 1.0, 1.03, 1.06, 1.085, 1.11, 1.13, 1.13, 1.13, 1.12, 1.085, 1.07, 1.04, 1.06, 1.11, 1.13, 1.17, 1.20, 1.22, 1.25, 1.27, 1.25, 1.23, 1.25, 1.23, 1.13, 1.16, 1.20, 1.22, 1.23, 1.26, 1.23, 1.0, 1.06, 1.16, 1.23, 1.29, 1.32, 1.35, 1.36, 1.37, 1.39, 1.40, 1.42, 1.40, 1.35, 1.29, 1.21, 1.13, 1.16, 1.16, 1.11, 1.13, 1.14, 1.16, 1.18, 1.15, 1.12, 1.10, 1.13, 1.18, 1.23, 1.26, 1.32, 1.33, 1.36, 1.37, 1.36, 1.29, 1.18, 1.23, 1.26, 1.29, 1.32, 1.35, 1.37, 1.36, 1.40, 1.42]

spx_gva_t = [2006.55, 2006.75, 2007.0, 2007.25, 2007.4, 2007.5, 2007.6, 2007.75, 2007.9, 2008.0, 2008.08, 2008.2, 2008.3, 2008.45, 2008.55, 2008.7, 2008.75, 2008.78, 2008.85, 2008.9, 2008.97, 2009.05, 2009.1, 2009.18, 2009.25, 2009.35, 2009.5, 2009.65, 2009.8, 2010.0, 2010.2, 2010.4, 2010.5, 2010.65, 2010.8, 2011.0, 2011.2, 2011.4, 2011.55, 2011.65, 2011.75, 2011.9, 2012.05, 2012.2, 2012.35, 2012.45, 2012.6, 2012.75, 2012.9, 2013.0, 2013.15, 2013.3, 2013.5, 2013.75, 2014.0, 2014.25, 2014.5, 2014.75, 2015.0, 2015.25, 2015.5, 2015.65, 2015.8, 2016.0, 2016.1, 2016.25, 2016.4, 2016.6, 2016.75, 2017.0, 2017.25, 2017.5, 2017.75, 2018.05, 2018.15, 2018.3, 2018.5, 2018.7, 2018.85, 2018.93, 2019.0, 2019.15, 2019.3, 2019.5, 2019.65, 2019.8, 2020.0, 2020.1, 2020.17, 2020.2, 2020.3, 2020.4, 2020.5, 2020.6, 2020.75, 2020.85, 2021.0, 2021.25, 2021.5, 2021.7, 2021.85, 2022.0, 2022.1, 2022.25, 2022.35, 2022.45, 2022.6, 2022.75, 2022.85, 2023.0, 2023.2, 2023.35, 2023.45, 2023.6, 2023.75, 2023.85, 2024.0, 2024.15, 2024.3, 2024.5, 2024.65, 2024.75, 2024.9, 2025.0, 2025.1, 2025.25, 2025.4, 2025.55, 2025.7, 2025.85, 2025.95, 2026.05, 2026.2, 2026.25, 2026.32, 2026.45, 2026.55]
spx_gva_v = [1.51, 1.57, 1.63, 1.67, 1.78, 1.74, 1.65, 1.70, 1.62, 1.56, 1.48, 1.50, 1.58, 1.48, 1.45, 1.39, 1.40, 1.15, 0.91, 0.82, 0.95, 0.97, 0.91, 0.79, 0.95, 1.0, 1.06, 1.13, 1.18, 1.29, 1.23, 1.16, 1.09, 1.21, 1.26, 1.32, 1.37, 1.36, 1.37, 1.16, 1.09, 1.18, 1.21, 1.29, 1.18, 1.13, 1.21, 1.23, 1.26, 1.29, 1.35, 1.40, 1.43, 1.50, 1.53, 1.56, 1.56, 1.55, 1.53, 1.53, 1.53, 1.40, 1.47, 1.53, 1.29, 1.43, 1.47, 1.47, 1.56, 1.50, 1.48, 1.48, 1.51, 1.60, 1.47, 1.53, 1.56, 1.53, 1.50, 1.26, 1.32, 1.40, 1.47, 1.43, 1.47, 1.50, 1.51, 1.53, 1.16, 1.05, 1.23, 1.40, 1.67, 1.78, 1.70, 1.74, 1.78, 1.86, 1.90, 1.94, 1.86, 1.86, 1.78, 1.70, 1.56, 1.40, 1.43, 1.32, 1.37, 1.43, 1.47, 1.50, 1.47, 1.56, 1.47, 1.40, 1.56, 1.63, 1.70, 1.78, 1.74, 1.82, 1.90, 1.82, 1.82, 1.60, 1.78, 1.86, 1.94, 1.90, 1.96, 1.90, 1.82, 1.72, 2.07, 2.11, 2.09]

silver_t = [2006.55, 2006.6, 2006.7, 2006.75, 2006.85, 2006.95, 2007.05, 2007.15, 2007.3, 2007.45, 2007.6, 2007.7, 2007.8, 2007.9, 2008.0, 2008.1, 2008.2, 2008.3, 2008.4, 2008.5, 2008.6, 2008.7, 2008.8, 2008.85, 2008.9, 2009.0, 2009.2, 2009.4, 2009.6, 2009.75, 2009.9, 2010.1, 2010.25, 2010.4, 2010.5, 2010.6, 2010.7, 2010.8, 2010.9, 2011.0, 2011.1, 2011.2, 2011.3, 2011.33, 2011.4, 2011.47, 2011.55, 2011.6, 2011.65, 2011.7, 2011.75, 2011.8, 2011.85, 2011.95, 2012.05, 2012.15, 2012.3, 2012.45, 2012.55, 2012.65, 2012.75, 2012.85, 2012.95, 2013.1, 2013.2, 2013.3, 2013.35, 2013.45, 2013.55, 2013.7, 2013.85, 2014.0, 2014.1, 2014.2, 2014.35, 2014.5, 2014.6, 2014.75, 2014.9, 2015.05, 2015.2, 2015.35, 2015.5, 2015.65, 2015.8, 2015.95, 2016.05, 2016.2, 2016.35, 2016.5, 2016.6, 2016.75, 2016.9, 2017.0, 2017.15, 2017.3, 2017.45, 2017.6, 2017.75, 2017.85, 2018.0, 2018.15, 2018.3, 2018.45, 2018.55, 2018.65, 2018.8, 2018.95, 2019.1, 2019.2, 2019.35, 2019.45, 2019.55, 2019.7, 2019.85, 2020.0, 2020.1, 2020.2, 2020.3, 2020.4, 2020.5, 2020.6, 2020.7, 2020.8, 2020.9, 2021.0, 2021.1, 2021.2, 2021.3, 2021.4, 2021.5, 2021.6, 2021.7, 2021.8, 2021.9, 2022.0, 2022.1, 2022.2, 2022.3, 2022.4, 2022.55, 2022.65, 2022.75, 2022.85, 2022.95, 2023.05, 2023.15, 2023.25, 2023.35, 2023.45, 2023.5, 2023.6, 2023.7, 2023.8, 2023.9, 2024.0, 2024.1, 2024.2, 2024.3, 2024.4, 2024.5, 2024.6, 2024.7, 2024.8, 2024.9, 2025.0, 2025.1, 2025.2, 2025.25, 2025.35, 2025.45, 2025.55, 2025.65, 2025.75, 2025.85, 2025.95, 2026.0, 2026.04, 2026.06, 2026.1, 2026.15, 2026.2, 2026.27, 2026.33]
silver_v = [0.58, 0.68, 0.71, 0.59, 0.65, 0.74, 0.68, 0.77, 0.71, 0.68, 0.65, 0.71, 0.75, 0.875, 0.95, 1.06, 1.085, 0.95, 0.91, 0.875, 0.77, 0.65, 0.48, 0.53, 0.47, 0.65, 0.65, 0.79, 0.875, 0.875, 1.04, 1.0, 1.02, 1.06, 1.13, 1.47, 1.56, 1.74, 1.94, 1.90, 1.98, 2.25, 2.92, 2.85, 2.35, 2.25, 2.35, 2.25, 2.43, 2.25, 1.98, 1.82, 1.90, 1.67, 1.90, 1.82, 1.72, 1.60, 1.70, 1.86, 1.82, 1.74, 1.70, 1.60, 1.53, 1.26, 1.35, 1.18, 1.13, 1.06, 1.04, 1.02, 1.11, 1.06, 1.085, 1.06, 0.93, 0.91, 0.86, 0.875, 0.84, 0.82, 0.79, 0.75, 0.72, 0.69, 0.74, 0.80, 0.86, 0.91, 0.875, 0.79, 0.82, 0.82, 0.86, 0.82, 0.79, 0.79, 0.80, 0.77, 0.79, 0.77, 0.74, 0.72, 0.69, 0.66, 0.68, 0.69, 0.68, 0.71, 0.69, 0.77, 0.80, 0.80, 0.875, 0.93, 0.95, 0.62, 0.66, 0.79, 0.91, 1.04, 0.95, 0.91, 0.875, 0.84, 0.82, 0.86, 0.82, 0.84, 0.79, 0.79, 0.75, 0.79, 0.72, 0.74, 0.79, 0.84, 0.74, 0.68, 0.65, 0.58, 0.61, 0.65, 0.72, 0.77, 0.74, 0.80, 0.84, 0.77, 0.79, 0.77, 0.79, 0.74, 0.79, 0.75, 0.74, 0.80, 0.91, 0.89, 0.95, 1.0, 0.98, 1.0, 1.02, 1.0, 1.0, 0.98, 0.93, 1.085, 1.13, 1.21, 1.29, 1.40, 1.60, 2.11, 2.45, 2.98, 2.8, 2.25, 2.62, 2.02, 2.35, 2.16]

gilts_t = [2006.55, 2006.75, 2007.0, 2007.15, 2007.3, 2007.45, 2007.6, 2007.75, 2007.9, 2008.0, 2008.15, 2008.3, 2008.45, 2008.6, 2008.75, 2008.85, 2008.95, 2009.1, 2009.25, 2009.4, 2009.55, 2009.7, 2009.85, 2010.0, 2010.15, 2010.3, 2010.45, 2010.6, 2010.75, 2010.9, 2011.0, 2011.15, 2011.3, 2011.45, 2011.6, 2011.75, 2011.9, 2012.05, 2012.25, 2012.4, 2012.55, 2012.7, 2012.85, 2013.0, 2013.15, 2013.3, 2013.45, 2013.6, 2013.75, 2013.9, 2014.05, 2014.2, 2014.35, 2014.5, 2014.65, 2014.8, 2014.95, 2015.1, 2015.25, 2015.4, 2015.55, 2015.7, 2015.85, 2016.0, 2016.15, 2016.3, 2016.45, 2016.55, 2016.7, 2016.85, 2017.0, 2017.15, 2017.3, 2017.45, 2017.6, 2017.75, 2017.95, 2018.15, 2018.35, 2018.55, 2018.75, 2018.95, 2019.15, 2019.35, 2019.55, 2019.7, 2019.85, 2020.0, 2020.15, 2020.3, 2020.45, 2020.6, 2020.75, 2020.9, 2021.05, 2021.2, 2021.35, 2021.5, 2021.65, 2021.8, 2021.95, 2022.05, 2022.15, 2022.25, 2022.35, 2022.45, 2022.55, 2022.65, 2022.75, 2022.85, 2023.0, 2023.15, 2023.3, 2023.45, 2023.6, 2023.75, 2023.9, 2024.05, 2024.2, 2024.35, 2024.5, 2024.65, 2024.8, 2024.95, 2025.1, 2025.25, 2025.4, 2025.55, 2025.7, 2025.85, 2026.0, 2026.15, 2026.3, 2026.42]
gilts_v = [1.47, 1.45, 1.44, 1.40, 1.40, 1.37, 1.35, 1.33, 1.37, 1.40, 1.42, 1.37, 1.35, 1.37, 1.42, 1.47, 1.51, 1.56, 1.56, 1.50, 1.47, 1.45, 1.44, 1.42, 1.40, 1.40, 1.37, 1.42, 1.44, 1.48, 1.51, 1.53, 1.50, 1.50, 1.53, 1.56, 1.58, 1.60, 1.56, 1.63, 1.65, 1.63, 1.60, 1.58, 1.56, 1.53, 1.47, 1.40, 1.39, 1.37, 1.36, 1.37, 1.39, 1.40, 1.40, 1.42, 1.44, 1.45, 1.47, 1.48, 1.47, 1.47, 1.48, 1.47, 1.47, 1.48, 1.50, 1.56, 1.53, 1.50, 1.48, 1.50, 1.50, 1.50, 1.48, 1.47, 1.42, 1.40, 1.39, 1.39, 1.40, 1.40, 1.41, 1.42, 1.44, 1.47, 1.45, 1.45, 1.47, 1.47, 1.48, 1.47, 1.47, 1.46, 1.45, 1.42, 1.37, 1.36, 1.36, 1.37, 1.35, 1.32, 1.26, 1.21, 1.16, 1.13, 1.11, 1.06, 1.06, 1.04, 1.05, 1.04, 1.04, 1.03, 1.02, 1.0, 0.99, 1.0, 0.99, 0.98, 0.97, 0.98, 0.97, 0.96, 0.95, 0.95, 0.94, 0.94, 0.94, 0.94, 0.94, 0.93, 0.92, 0.92]

usig_t = [2006.55, 2006.75, 2007.0, 2007.2, 2007.4, 2007.6, 2007.8, 2008.0, 2008.15, 2008.3, 2008.45, 2008.6, 2008.75, 2008.85, 2009.0, 2009.2, 2009.4, 2009.6, 2009.8, 2010.0, 2010.2, 2010.4, 2010.6, 2010.8, 2011.0, 2011.2, 2011.4, 2011.6, 2011.8, 2012.0, 2012.3, 2012.5, 2012.7, 2012.9, 2013.1, 2013.3, 2013.5, 2013.7, 2013.9, 2014.1, 2014.3, 2014.5, 2014.7, 2014.9, 2015.1, 2015.3, 2015.5, 2015.7, 2015.9, 2016.1, 2016.3, 2016.5, 2016.7, 2016.9, 2017.1, 2017.3, 2017.5, 2017.7, 2017.95, 2018.15, 2018.35, 2018.55, 2018.75, 2018.95, 2019.15, 2019.35, 2019.55, 2019.75, 2019.95, 2020.15, 2020.2, 2020.25, 2020.35, 2020.5, 2020.7, 2020.9, 2021.1, 2021.3, 2021.5, 2021.7, 2021.9, 2022.05, 2022.2, 2022.35, 2022.5, 2022.65, 2022.8, 2022.95, 2023.1, 2023.3, 2023.45, 2023.6, 2023.75, 2023.9, 2024.05, 2024.2, 2024.35, 2024.5, 2024.65, 2024.8, 2024.95, 2025.1, 2025.4, 2025.7, 2026.0, 2026.15, 2026.3, 2026.55]
usig_v = [1.17, 1.21, 1.23, 1.25, 1.23, 1.21, 1.17, 1.16, 1.15, 1.13, 1.11, 1.085, 1.06, 1.06, 1.085, 1.13, 1.16, 1.18, 1.21, 1.22, 1.23, 1.25, 1.26, 1.27, 1.29, 1.30, 1.30, 1.32, 1.33, 1.33, 1.35, 1.39, 1.42, 1.40, 1.40, 1.37, 1.35, 1.32, 1.33, 1.35, 1.36, 1.36, 1.37, 1.39, 1.39, 1.36, 1.33, 1.30, 1.26, 1.23, 1.26, 1.32, 1.35, 1.35, 1.36, 1.37, 1.39, 1.40, 1.33, 1.30, 1.27, 1.27, 1.26, 1.29, 1.32, 1.35, 1.37, 1.39, 1.40, 1.40, 1.21, 1.29, 1.37, 1.40, 1.37, 1.35, 1.32, 1.33, 1.35, 1.36, 1.35, 1.29, 1.21, 1.13, 1.11, 1.06, 1.05, 1.06, 1.05, 1.06, 1.06, 1.05, 1.02, 1.04, 1.05, 1.02, 1.03, 1.02, 1.01, 1.01, 1.0, 1.0, 1.0, 1.01, 1.02, 1.02, 1.01, 1.0]

reits_t = [2006.55, 2006.65, 2006.75, 2006.85, 2007.0, 2007.1, 2007.15, 2007.25, 2007.35, 2007.45, 2007.55, 2007.6, 2007.7, 2007.8, 2007.9, 2008.0, 2008.1, 2008.2, 2008.3, 2008.4, 2008.5, 2008.6, 2008.7, 2008.75, 2008.8, 2008.85, 2008.9, 2008.95, 2009.0, 2009.05, 2009.1, 2009.15, 2009.18, 2009.22, 2009.3, 2009.38, 2009.45, 2009.5, 2009.6, 2009.7, 2009.8, 2009.9, 2010.0, 2010.1, 2010.2, 2010.3, 2010.35, 2010.45, 2010.55, 2010.65, 2010.75, 2010.85, 2010.95, 2011.05, 2011.15, 2011.25, 2011.35, 2011.45, 2011.55, 2011.6, 2011.65, 2011.72, 2011.8, 2011.85, 2011.95, 2012.05, 2012.1, 2012.15, 2012.2, 2012.25, 2012.32, 2012.38, 2012.45, 2012.55, 2012.62, 2012.72, 2012.8, 2012.9, 2013.0, 2013.1, 2013.2, 2013.3, 2013.4, 2013.5, 2013.6, 2013.7, 2013.8, 2013.9, 2014.0, 2014.1, 2014.2, 2014.3, 2014.4, 2014.5, 2014.6, 2014.7, 2014.8, 2014.9, 2015.0, 2015.1, 2015.2, 2015.3, 2015.4, 2015.5, 2015.6, 2015.7, 2015.8, 2015.9, 2016.0, 2016.1, 2016.2, 2016.3, 2016.4, 2016.5, 2016.6, 2016.7, 2016.8, 2016.9, 2017.0, 2017.1, 2017.2, 2017.3, 2017.4, 2017.5, 2017.6, 2017.7, 2017.8, 2017.9, 2018.0, 2018.1, 2018.2, 2018.3, 2018.4, 2018.5, 2018.6, 2018.7, 2018.8, 2018.9, 2019.0, 2019.1, 2019.2, 2019.3, 2019.4, 2019.5, 2019.6, 2019.7, 2019.8, 2019.9, 2020.0, 2020.1, 2020.15, 2020.2, 2020.22, 2020.25, 2020.28, 2020.32, 2020.38, 2020.45, 2020.5, 2020.55, 2020.62, 2020.7, 2020.78, 2020.85, 2020.92, 2021.0, 2021.05, 2021.12, 2021.2, 2021.3, 2021.4, 2021.5, 2021.6, 2021.7, 2021.8, 2021.9, 2022.0, 2022.1, 2022.15, 2022.2, 2022.25, 2022.3, 2022.38, 2022.45, 2022.5, 2022.55, 2022.6, 2022.65, 2022.7, 2022.8, 2022.9, 2023.0, 2023.1, 2023.15, 2023.2, 2023.3, 2023.38, 2023.45, 2023.5, 2023.6, 2023.7, 2023.8, 2023.9, 2024.0, 2024.1, 2024.2, 2024.3, 2024.4, 2024.5, 2024.6, 2024.7, 2024.8, 2024.9, 2025.0, 2025.1, 2025.15, 2025.2, 2025.25, 2025.3, 2025.4, 2025.5, 2025.6, 2025.7, 2025.8, 2025.9, 2026.0, 2026.1, 2026.2, 2026.3, 2026.4, 2026.5, 2026.55]
reits_v = [1.13, 1.11, 1.16, 1.13, 1.18, 1.32, 1.21, 1.16, 1.18, 1.21, 0.95, 0.875, 0.93, 1.02, 0.82, 0.77, 0.89, 0.72, 0.875, 0.91, 0.86, 0.875, 0.82, 0.66, 0.48, 0.42, 0.326, 0.37, 0.355, 0.386, 0.33, 0.326, 0.28, 0.326, 0.404, 0.46, 0.57, 0.545, 0.68, 0.786, 0.875, 0.93, 1.21, 1.085, 1.18, 1.56, 1.43, 1.16, 1.29, 1.16, 1.35, 1.18, 1.37, 1.43, 1.29, 1.40, 1.32, 1.43, 1.26, 1.37, 1.02, 0.86, 0.95, 1.085, 0.95, 1.02, 1.085, 1.06, 1.13, 1.06, 1.0, 0.84, 0.93, 0.91, 0.97, 1.0, 0.93, 0.95, 1.0, 1.02, 1.04, 1.085, 1.13, 1.11, 1.085, 1.11, 1.06, 1.04, 1.02, 1.04, 1.085, 1.06, 1.11, 1.085, 1.04, 1.0, 0.95, 0.97, 0.91, 0.875, 0.91, 0.95, 0.93, 0.91, 0.875, 0.84, 0.82, 0.84, 0.84, 0.82, 0.80, 0.79, 0.77, 0.72, 0.75, 0.80, 0.84, 0.80, 0.84, 0.82, 0.86, 0.84, 0.82, 0.84, 0.86, 0.84, 0.82, 0.84, 0.91, 0.93, 0.89, 0.93, 0.95, 0.97, 1.0, 1.02, 0.97, 0.91, 0.95, 0.97, 1.02, 1.04, 1.06, 1.0, 0.89, 0.84, 0.95, 1.0, 1.0, 1.02, 0.91, 0.53, 0.48, 0.45, 0.50, 0.50, 0.53, 0.57, 0.545, 0.58, 0.62, 0.65, 0.65, 0.69, 0.74, 0.75, 0.66, 0.71, 0.82, 0.875, 0.91, 0.95, 1.0, 1.04, 1.085, 1.13, 1.18, 1.21, 1.40, 1.50, 1.60, 1.47, 1.53, 1.40, 1.43, 1.56, 1.63, 1.40, 1.21, 1.13, 1.11, 1.11, 1.16, 1.06, 1.21, 1.18, 1.29, 1.26, 1.26, 1.23, 1.26, 1.32, 1.35, 1.40, 1.43, 1.40, 1.43, 1.40, 1.43, 1.47, 1.50, 1.53, 1.56, 1.56, 1.53, 1.47, 1.37, 1.32, 1.35, 1.40, 1.43, 1.47, 1.43, 1.40, 1.43, 1.40, 1.43, 1.47, 1.53, 1.60, 1.63, 1.67]

ust_t = [2006.55, 2006.75, 2007.0, 2007.2, 2007.4, 2007.6, 2007.8, 2008.0, 2008.2, 2008.4, 2008.6, 2008.75, 2008.85, 2008.95, 2009.05, 2009.15, 2009.3, 2009.45, 2009.6, 2009.75, 2009.9, 2010.05, 2010.2, 2010.35, 2010.5, 2010.6, 2010.75, 2010.9, 2011.05, 2011.2, 2011.35, 2011.5, 2011.65, 2011.8, 2011.95, 2012.1, 2012.25, 2012.4, 2012.55, 2012.7, 2012.85, 2013.0, 2013.15, 2013.3, 2013.45, 2013.6, 2013.75, 2013.9, 2014.05, 2014.2, 2014.35, 2014.5, 2014.65, 2014.8, 2014.95, 2015.1, 2015.25, 2015.4, 2015.55, 2015.7, 2015.85, 2016.0, 2016.15, 2016.3, 2016.45, 2016.55, 2016.7, 2016.85, 2017.0, 2017.15, 2017.3, 2017.45, 2017.6, 2017.75, 2017.95, 2018.15, 2018.35, 2018.55, 2018.75, 2018.95, 2019.15, 2019.35, 2019.55, 2019.7, 2019.85, 2020.0, 2020.15, 2020.25, 2020.4, 2020.55, 2020.7, 2020.85, 2021.0, 2021.15, 2021.3, 2021.45, 2021.6, 2021.75, 2021.9, 2022.05, 2022.2, 2022.35, 2022.5, 2022.65, 2022.8, 2022.95, 2023.1, 2023.3, 2023.45, 2023.6, 2023.75, 2023.9, 2024.05, 2024.2, 2024.35, 2024.5, 2024.65, 2024.8, 2024.95, 2025.1, 2025.25, 2025.4, 2025.55, 2025.7, 2025.85, 2026.0, 2026.15, 2026.3, 2026.45, 2026.55]
ust_v = [1.27, 1.30, 1.33, 1.35, 1.33, 1.29, 1.30, 1.42, 1.40, 1.44, 1.40, 1.44, 1.56, 1.74, 1.63, 1.56, 1.53, 1.53, 1.47, 1.44, 1.40, 1.36, 1.39, 1.42, 1.47, 1.50, 1.53, 1.48, 1.47, 1.44, 1.50, 1.53, 1.60, 1.63, 1.60, 1.58, 1.53, 1.56, 1.60, 1.56, 1.53, 1.51, 1.47, 1.44, 1.40, 1.36, 1.33, 1.32, 1.32, 1.35, 1.36, 1.37, 1.39, 1.40, 1.42, 1.40, 1.37, 1.35, 1.33, 1.33, 1.36, 1.39, 1.40, 1.42, 1.44, 1.40, 1.35, 1.29, 1.27, 1.29, 1.30, 1.30, 1.30, 1.29, 1.26, 1.23, 1.22, 1.22, 1.23, 1.26, 1.30, 1.35, 1.40, 1.42, 1.40, 1.40, 1.44, 1.47, 1.45, 1.45, 1.42, 1.40, 1.37, 1.32, 1.29, 1.29, 1.30, 1.29, 1.29, 1.23, 1.18, 1.13, 1.10, 1.085, 1.06, 1.085, 1.07, 1.06, 1.04, 1.0, 0.97, 0.98, 0.99, 0.98, 0.97, 0.97, 0.96, 0.95, 0.94, 0.94, 0.95, 0.95, 0.95, 0.94, 0.94, 0.95, 0.94, 0.94, 0.93, 0.93]

labels = [
    "Bitcoin (halving cycle power law)",
    "Bitcoin (power law)",
    "DAX (CAPE)",
    "Dow Jones Industrial Average (CAPE)",
    "FTSE 100 (CAPE)",
    "Gold (M2/Gold)",
    "MSCI World (CAPE)",
    "NASDAQ Composite (CAPE)",
    "Nikkei 225 (CAPE)",
    "S&P 500 (CAPE)",
    "S&P 500 (MC/GVA)",
    "Silver (Gold at M2 trend)",
    "UK Gilts (~7Y) (price via yield)",
    "US IG Corporate Bonds (price via yield)",
    "US REITs (yield spread)",
    "US Treasuries (7-10Y) (price via yield)",
]
series = [
    (btc_halving_t, btc_halving_v), (btc_power_t, btc_power_v),
    (dax_t, dax_v), (dow_t, dow_v), (ftse_t, ftse_v), (gold_t, gold_v),
    (msci_t, msci_v), (nasdaq_t, nasdaq_v), (nikkei_t, nikkei_v),
    (spx_cape_t, spx_cape_v), (spx_gva_t, spx_gva_v), (silver_t, silver_v),
    (gilts_t, gilts_v), (usig_t, usig_v), (reits_t, reits_v), (ust_t, ust_v),
]


def to_dates(years):
    # decimal year -> timestamp
    return [pd.Timestamp(int(y), 1, 1) + pd.Timedelta(days=(y - int(y)) * 365.25) for y in years]


fig = plt.figure(figsize=(11, 5.8), dpi=150)
ax = fig.add_subplot(111)
fig.subplots_adjust(left=0.068, right=0.986, bottom=0.100, top=0.9356)

cmap = plt.get_cmap("tab20")
for i, (lab, (t, v)) in enumerate(zip(labels, series)):
    ax.plot(to_dates(t), v, color=cmap(i), lw=1.0, alpha=0.8, label=lab)

ax.axhline(1.0, color="#333333", ls="--", lw=1.0, alpha=0.8)

ax.set_yscale("log")
ax.set_ylim(0.1607, 17.45)
ax.set_xlim(to_dates([2005.56])[0], to_dates([2027.54])[0])

ax.yaxis.set_major_formatter(FuncFormatter(lambda v, _: f"{v:.1f}x" if v < 10 else f"{v:.0f}x"))
ax.yaxis.set_minor_formatter(NullFormatter())

ax.xaxis.set_major_locator(mdates.YearLocator(2))
ax.xaxis.set_minor_locator(mdates.YearLocator(1))
ax.xaxis.set_major_formatter(mdates.DateFormatter("%Y"))

ax.grid(True, which="major", alpha=0.3)
ax.xaxis.grid(True, which="minor", alpha=0.3)

ax.set_title("Out-of-sample ratio vs trailing 30-year trend, last 20 years")
ax.set_xlabel("Date")
ax.set_ylabel("Ratio to trend")
ax.legend(loc="upper left", ncol=2, fontsize=8)

fig.savefig("out.png", dpi=150)
